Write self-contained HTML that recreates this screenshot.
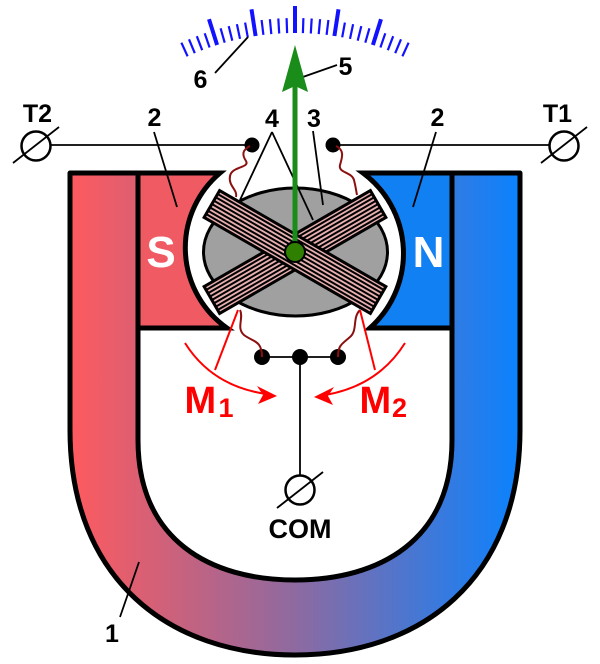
<!DOCTYPE html>
<html><head><meta charset="utf-8"><style>
html,body{margin:0;padding:0;background:#fff;}
svg{display:block;}
text{font-family:"Liberation Sans",Arial,sans-serif;font-weight:bold;}
</style></head><body>
<svg width="600" height="664" viewBox="0 0 600 664" xmlns="http://www.w3.org/2000/svg">
<defs>
<linearGradient id="g" x1="70" y1="0" x2="520" y2="0" gradientUnits="userSpaceOnUse">
<stop offset="0" stop-color="#ff5a5e"/>
<stop offset="0.5" stop-color="#8e6aa0"/>
<stop offset="1" stop-color="#0a82ff"/>
</linearGradient>
</defs>

<!-- scale ticks -->
<g stroke="#1212ff" stroke-width="2.2" fill="none">
<line x1="302.9" y1="33.1" x2="303.4" y2="18.1"/>
<line x1="310.8" y1="33.5" x2="311.7" y2="18.5"/>
<line x1="318.7" y1="34.1" x2="320.1" y2="19.2"/>
<line x1="326.6" y1="34.9" x2="328.4" y2="20.0"/>
<line x1="342.2" y1="37.3" x2="344.9" y2="22.6"/>
<line x1="350.0" y1="38.9" x2="353.1" y2="24.2"/>
<line x1="357.7" y1="40.7" x2="361.3" y2="26.1"/>
<line x1="365.3" y1="42.7" x2="369.4" y2="28.3"/>
<line x1="380.4" y1="47.5" x2="385.3" y2="33.3"/>
<line x1="387.8" y1="50.2" x2="393.2" y2="36.2"/>
<line x1="395.2" y1="53.2" x2="401.0" y2="39.3"/>
<line x1="402.4" y1="56.3" x2="408.6" y2="42.7"/>
<line x1="287.1" y1="33.1" x2="286.6" y2="18.1"/>
<line x1="279.2" y1="33.5" x2="278.3" y2="18.5"/>
<line x1="271.3" y1="34.1" x2="269.9" y2="19.2"/>
<line x1="263.4" y1="34.9" x2="261.6" y2="20.0"/>
<line x1="247.8" y1="37.3" x2="245.1" y2="22.6"/>
<line x1="240.0" y1="38.9" x2="236.9" y2="24.2"/>
<line x1="232.3" y1="40.7" x2="228.7" y2="26.1"/>
<line x1="224.7" y1="42.7" x2="220.6" y2="28.3"/>
<line x1="209.6" y1="47.5" x2="204.7" y2="33.3"/>
<line x1="202.2" y1="50.2" x2="196.8" y2="36.2"/>
<line x1="194.8" y1="53.2" x2="189.0" y2="39.3"/>
<line x1="187.6" y1="56.3" x2="181.4" y2="42.7"/>
</g>
<g stroke="#1212ff" stroke-width="4" fill="none">
<line x1="295" y1="33" x2="295" y2="6"/>
<line x1="334.4" y1="36.0" x2="338.5" y2="9.3"/>
<line x1="372.9" y1="45.0" x2="381.0" y2="19.2"/>
<line x1="255.6" y1="36.0" x2="251.5" y2="9.3"/>
<line x1="217.1" y1="45.0" x2="209.0" y2="19.2"/>
</g>

<!-- magnet U -->
<path d="M70,173 L70,430 C70,580 170,655 295,655 C420,655 520,580 520,430 L520,173 L452,173 L452,440 C452,540 380,580 295,580 C210,580 138,540 138,440 L138,173 Z" fill="url(#g)" stroke="#000" stroke-width="5" stroke-linejoin="round"/>
<!-- pole pieces -->
<path d="M138,173 L220,173 A98 98 0 0 0 227,328 L138,328 Z" fill="#f05a63" stroke="#000" stroke-width="5" stroke-linejoin="miter"/>
<path d="M452,173 L363,173 A100 100 0 0 1 370,328 L452,328 Z" fill="#1080f2" stroke="#000" stroke-width="5" stroke-linejoin="miter"/>

<text x="161" y="267" font-size="44" fill="#fff" text-anchor="middle">S</text>
<text x="428.5" y="267" font-size="44" fill="#fff" text-anchor="middle">N</text>

<!-- terminal lines -->
<g stroke="#000" stroke-width="1.8" fill="none">
<line x1="51" y1="145" x2="252" y2="145"/>
<line x1="333" y1="145" x2="549" y2="145"/>
<circle cx="36" cy="146" r="14.5" stroke-width="2.5"/>
<line x1="13" y1="163" x2="59" y2="127"/>
<circle cx="564" cy="146" r="14.5" stroke-width="2.5"/>
<line x1="541" y1="163" x2="587" y2="127"/>
<line x1="262" y1="357" x2="338" y2="357"/>
<line x1="300" y1="357" x2="300" y2="476"/>
<circle cx="300" cy="490" r="14.5" stroke-width="2.5"/>
<line x1="277" y1="508" x2="323" y2="472"/>
</g>
<g fill="#000">
<circle cx="252" cy="145" r="7.5"/>
<circle cx="333" cy="145" r="7.5"/>
<circle cx="262" cy="357" r="8"/>
<circle cx="300" cy="357" r="8"/>
<circle cx="338" cy="357" r="8"/>
</g>

<!-- wires -->
<g stroke="#8b1010" stroke-width="2" fill="none">
<path d="M250,146 C242,150 242,155 246,161 C250,168 232,166 230,176 C228,186 238,190 236,197"/>
<path d="M336,146 C345,150 342,158 340,165 C338,173 352,172 354,180 C356,188 356,190 357,195"/>
<path d="M240,310 C244,318 236,328 244,335 C253,342 262,340 262,357"/>
<path d="M360,310 C352,318 358,330 350,337 C342,344 338,345 338,357"/>
</g>

<!-- rotor -->
<ellipse cx="295.5" cy="252" rx="92" ry="64" fill="#a0a0a0" stroke="#000" stroke-width="3"/>

<!-- coils -->
<g transform="translate(295,252) rotate(-30)">
<rect x="-96" y="-15.5" width="192" height="31" fill="#e8b0b0" stroke="#000" stroke-width="3"/>
<g stroke="#000" stroke-width="2">
<line x1="-96" y1="-11.6" x2="96" y2="-11.6"/>
<line x1="-96" y1="-7.75" x2="96" y2="-7.75"/>
<line x1="-96" y1="-3.9" x2="96" y2="-3.9"/>
<line x1="-96" y1="0" x2="96" y2="0"/>
<line x1="-96" y1="3.9" x2="96" y2="3.9"/>
<line x1="-96" y1="7.75" x2="96" y2="7.75"/>
<line x1="-96" y1="11.6" x2="96" y2="11.6"/>
</g>
</g>
<g transform="translate(295,252) rotate(30)">
<rect x="-96" y="-15.5" width="192" height="31" fill="#e8b0b0" stroke="#000" stroke-width="3"/>
<g stroke="#000" stroke-width="2">
<line x1="-96" y1="-11.6" x2="96" y2="-11.6"/>
<line x1="-96" y1="-7.75" x2="96" y2="-7.75"/>
<line x1="-96" y1="-3.9" x2="96" y2="-3.9"/>
<line x1="-96" y1="0" x2="96" y2="0"/>
<line x1="-96" y1="3.9" x2="96" y2="3.9"/>
<line x1="-96" y1="7.75" x2="96" y2="7.75"/>
<line x1="-96" y1="11.6" x2="96" y2="11.6"/>
</g>
</g>

<!-- leaders -->
<g stroke="#000" stroke-width="1.8" fill="none">
<line x1="215" y1="73" x2="248" y2="37"/>
<line x1="300" y1="78" x2="337" y2="65"/>
<line x1="272" y1="132" x2="240" y2="200"/>
<line x1="272" y1="132" x2="313" y2="220"/>
<line x1="313" y1="131" x2="323" y2="205"/>
<line x1="154" y1="132" x2="177" y2="207"/>
<line x1="436" y1="132" x2="413" y2="207"/>
<line x1="120" y1="617" x2="139" y2="562"/>
</g>

<!-- pointer -->
<line x1="295" y1="252" x2="295" y2="86" stroke="#1a8c1a" stroke-width="5"/>
<polygon points="295,45 282,92 295,86 308,92" fill="#1a8c1a"/>
<circle cx="295" cy="252" r="10" fill="#2f7f00" stroke="#000" stroke-width="2"/>

<!-- red M arrows -->
<g stroke="#ff0000" stroke-width="2" fill="none">
<line x1="238" y1="310" x2="215" y2="370"/>
<line x1="360" y1="310" x2="375" y2="370"/>
<path d="M185,343 Q212,386 266,394"/>
<path d="M405,343 Q378,386 325,395"/>
</g>
<polygon points="277,396 257,386 263,395 258,404" fill="#ff0000"/>
<polygon points="314,397 334,387 328,396 333,405" fill="#ff0000"/>

<!-- labels -->
<g fill="#000" text-anchor="middle" font-size="25">
<text x="200.5" y="88">6</text>
<text x="345.5" y="75">5</text>
<text x="272" y="127">4</text>
<text x="314" y="127">3</text>
<text x="154.5" y="126">2</text>
<text x="437.5" y="126">2</text>
<text x="37.5" y="122">T2</text>
<text x="557.5" y="122">T1</text>
<text x="112" y="642">1</text>
<text x="300" y="538" font-size="27">COM</text>
</g>
<g fill="#ff0000">
<text x="184.5" y="413" font-size="38">M</text>
<text x="218.5" y="417" font-size="27">1</text>
<text x="359.5" y="413" font-size="38">M</text>
<text x="392" y="417" font-size="27">2</text>
</g>
</svg>
</body></html>
